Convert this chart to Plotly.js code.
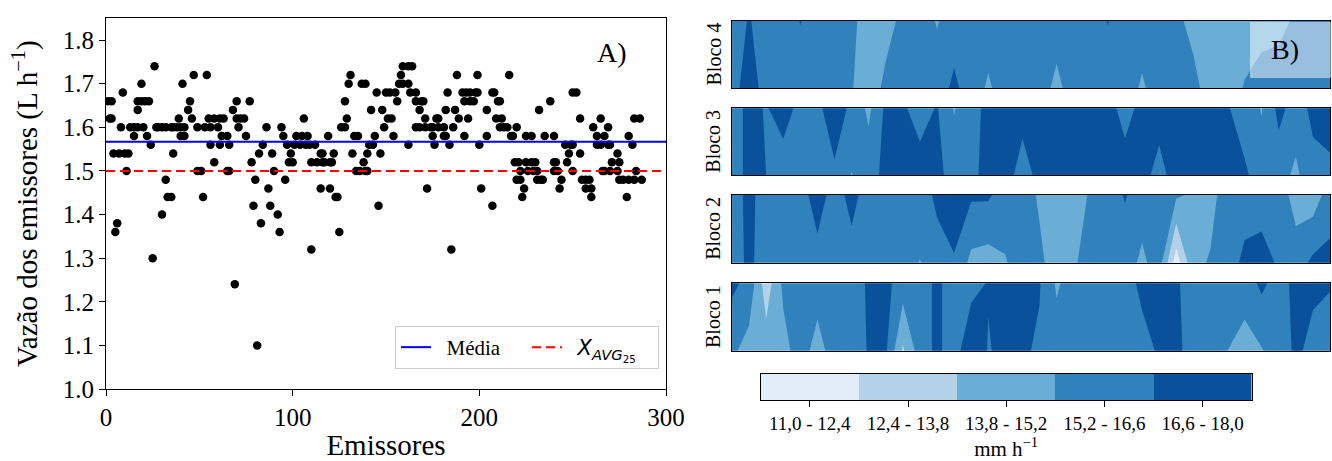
<!DOCTYPE html>
<html><head><meta charset="utf-8">
<script src="https://cdn.plot.ly/plotly-3.0.1.min.js"></script>
<style>html,body{margin:0;padding:0;background:#fff}#chart{width:1332px;height:461px}</style>
</head><body><div id="chart"></div>
<script>
// ---------- Painel A: vazão dos emissores ----------
const emissores = [
 1,3,2,3,9,8,4,7,10,12,11,6,5,
 19,17,19,21,23,17,13,15,17,20,15,22,24,26,25,
 27,28,30,32,32,33,35,30,36,35,36,38,40,42,39,41,40,42,44,45,46,47,
 49,53,49,51,52,54,55,58,61,63,56,60,56,61,66,58,62,65,65,66,
 68,69,70,70,72,74,71,77,75,78,79,80,82,83,84,86,87,88,89,90,92,93,94,95,96,97,99,98,100,81,
 102,105,108,106,101,104,107,109,112,110,110,113,116,117,120,121,115,116,122,115,120,123,124,119,125,
 126,128,129,128,130,131,133,135,132,134,136,139,140,137,139,138,140,141,143,142,144,145,146,147,148,149,
 150,152,155,151,153,154,156,158,159,162,164,157,159,162,162,163,166,166,169,170,
 166,168,171,174,175,178,181,168,171,177,178,172,175,181,182,176,184,182,185,183,186,187,189,188,
 191,193,195,198,199,192,195,197,194,192,199,200,201,
 204,204,207,208,207,210,211,209,212,211,213,215,217,216,218,220,219,221,220,222,222,224,223,
 225,228,225,228,230,226,229,231,231,233,234,232,235,238,240,240,241,240,242,244,243,
 246,249,250,248,247,250,250,252,254,254,255,257,259,257,260,260,261,263,263,265,269,265,266,267,270,274,
 267,269,270,271,274,275,275,277,280,283,279,280,282,283,286,284,287
];
const vazao = [
 1.66,1.66,1.62,1.62,1.68,1.60,1.54,1.54,1.54,1.54,1.50,1.38,1.36,
 1.70,1.66,1.66,1.66,1.66,1.64,1.60,1.60,1.60,1.60,1.58,1.58,1.56,1.74,1.30,
 1.60,1.60,1.60,1.60,1.48,1.44,1.44,1.40,1.54,1.60,1.60,1.60,1.60,1.60,1.62,1.70,1.58,1.58,1.64,1.66,1.62,1.72,
 1.60,1.60,1.50,1.50,1.44,1.72,1.62,1.62,1.62,1.62,1.60,1.60,1.56,1.56,1.56,1.52,1.58,1.58,1.50,1.50,
 1.64,1.24,1.66,1.62,1.62,1.62,1.60,1.66,1.58,1.52,1.42,1.48,1.54,1.38,1.56,1.60,1.46,1.42,1.54,1.50,1.40,1.36,1.60,1.58,1.48,1.56,1.54,1.52,1.52,1.10,
 1.58,1.58,1.58,1.62,1.56,1.56,1.56,1.56,1.56,1.32,1.52,1.52,1.52,1.52,1.52,1.52,1.54,1.54,1.54,1.46,1.46,1.44,1.44,1.58,1.36,
 1.60,1.60,1.62,1.66,1.70,1.72,1.58,1.58,1.54,1.50,1.50,1.50,1.50,1.70,1.70,1.52,1.54,1.56,1.56,1.64,1.58,1.68,1.42,1.54,1.64,1.60,
 1.68,1.68,1.68,1.62,1.62,1.58,1.66,1.72,1.74,1.74,1.74,1.70,1.70,1.70,1.56,1.68,1.68,1.66,1.66,1.66,
 1.60,1.60,1.60,1.60,1.60,1.60,1.60,1.64,1.62,1.62,1.62,1.46,1.58,1.58,1.58,1.56,1.56,1.64,1.32,1.68,1.60,1.64,1.62,1.72,
 1.68,1.68,1.68,1.68,1.68,1.66,1.66,1.66,1.62,1.58,1.72,1.56,1.46,
 1.58,1.64,1.68,1.68,1.42,1.66,1.66,1.62,1.62,1.60,1.60,1.60,1.58,1.72,1.58,1.60,1.52,1.52,1.48,1.48,1.50,1.46,1.44,
 1.58,1.58,1.52,1.52,1.52,1.50,1.50,1.50,1.48,1.48,1.48,1.64,1.58,1.66,1.58,1.52,1.52,1.50,1.50,1.48,1.46,
 1.56,1.56,1.56,1.54,1.52,1.50,1.68,1.68,1.62,1.54,1.48,1.48,1.48,1.46,1.46,1.44,1.60,1.58,1.56,1.56,1.56,1.62,1.50,1.50,1.50,1.50,
 1.58,1.60,1.56,1.52,1.54,1.52,1.48,1.48,1.48,1.48,1.44,1.58,1.56,1.62,1.62,1.50,1.48
];
const media = 1.567;
const xavg25 = 1.50;
const faixaEmissores = [0, 300];
const xTicks = [0, 100, 200, 300];
const yTicks = [1.0, 1.1, 1.2, 1.3, 1.4, 1.5, 1.6, 1.7, 1.8];

// ---------- Painel B: lâmina aplicada por bloco (mm h-1) ----------
const colunas = [0,1,2,3,4,5,6,7,8,9,10,11,12,13,14,15,16,17,18,19,20,21,22,23,24,25,26,27,28,29,30,31,32,33,34,35];
const bloco4Topo = [15.9,16.7,15.9,15.9,16.65,15.9,15.8,15.5,14.6,14.6,15.6,15.9,15.1,15.9,15.9,15.9,15.9,15.9,15.9,15.9,15.9,15.9,16.65,15.9,15.9,15.9,15.5,14.8,14.5,14.4,14.5,14.6,14.8,15.4,15.8,15.9];
const bloco4Base = [15.9,17.5,15.9,15.9,15.9,15.9,15.8,15.3,14.3,15.6,15.9,15.9,15.9,16.9,15.9,15.0,15.9,15.9,15.9,14.8,15.9,15.9,15.9,15.9,15.0,15.9,15.9,15.6,14.6,14.5,15.3,15.9,15.9,15.9,15.9,15.9];
const bloco3Topo = [15.9,17.0,16.5,17.2,16.2,16.2,17.6,16.2,14.9,16.9,16.8,16.0,16.7,15.1,16.2,16.9,17.0,17.1,17.0,17.1,17.2,17.0,17.1,16.1,17.0,17.1,17.2,17.1,17.0,16.7,16.0,15.1,17.0,16.0,16.9,16.8];
const bloco3Base = [15.9,17.0,16.6,15.9,15.9,16.0,16.3,15.15,16.0,17.0,17.1,17.2,17.0,16.0,16.3,17.0,17.2,16.0,17.0,17.1,17.2,17.0,17.1,17.2,17.0,16.2,17.1,17.0,17.1,16.9,16.8,16.0,15.8,14.9,16.2,16.5];
const bloco2Topo = [15.9,17.0,15.9,15.9,15.9,17.4,15.9,17.1,15.9,15.9,15.9,15.9,16.9,17.2,16.8,16.8,15.9,15.9,15.0,14.6,14.8,15.3,15.9,16.7,15.9,15.9,15.4,15.0,14.8,15.8,16.0,15.9,16.0,14.6,14.4,15.9];
const bloco2Base = [15.9,16.9,15.9,15.9,15.9,16.0,15.9,16.0,15.9,15.9,15.9,15.15,16.0,16.5,14.8,14.6,15.1,15.9,15.5,14.5,15.0,15.9,15.9,15.9,14.9,15.9,11.6,14.9,15.3,16.0,16.9,17.2,16.4,15.9,16.9,17.0];
const bloco1Topo = [16.9,16.2,13.0,15.5,15.9,15.9,15.9,15.9,16.8,17.0,15.9,15.9,16.9,15.9,16.1,16.7,17.0,16.9,16.7,15.0,15.9,15.9,15.9,15.9,17.0,17.0,16.8,15.9,15.9,15.9,15.9,16.9,16.0,17.0,16.8,16.7];
const bloco1Base = [15.5,14.6,14.5,14.7,15.9,14.6,15.9,15.9,16.7,16.8,13.6,15.9,16.9,15.9,17.8,16.5,17.0,16.8,16.4,15.9,15.9,15.9,15.9,15.9,16.0,16.8,17.0,15.9,15.9,15.2,14.6,15.1,16.0,16.8,16.3,15.9];
const limites = [12.4, 13.8, 15.2, 16.6];
const faixas = ['11,0 - 12,4', '12,4 - 13,8', '13,8 - 15,2', '15,2 - 16,6', '16,6 - 18,0'];
const faixaIdx = [0, 1, 2, 3, 4];
const cores = ['#e2edf8', '#b3d2e9', '#6aaed6', '#3181bd', '#0a519c'];
const blocos = ['Bloco 4', 'Bloco 3', 'Bloco 2', 'Bloco 1'];

// ---------- construção ----------
const serif = '"Liberation Serif", "Times New Roman", serif';
const W = 1332, H = 461;
const px = v => v / W, py = v => 1 - v / H;
const escala = cores.map((c, i) => [i / (cores.length - 1), c]);
const nb = '\u00a0\u00a0';

const traces = [];
traces.push({type:'scatter', mode:'markers', x:emissores, y:vazao, xaxis:'x', yaxis:'y',
  marker:{color:'#000', size:8.5, line:{width:0}}, showlegend:false, hoverinfo:'skip'});
traces.push({type:'scatter', mode:'lines', x:faixaEmissores, y:faixaEmissores.map(() => media),
  xaxis:'x', yaxis:'y', line:{color:'#0000ff', width:2}, name:nb + 'Média'});
traces.push({type:'scatter', mode:'lines', x:faixaEmissores, y:faixaEmissores.map(() => xavg25),
  xaxis:'x', yaxis:'y', line:{color:'#ff0000', width:2, dash:'9px,5px'},
  name:nb + '<span style="font-family:DejaVu Sans"><i>X</i><sub><i>AVG</i><sub>25</sub></sub></span>'});

const dadosBlocos = [[bloco4Base, bloco4Topo], [bloco3Base, bloco3Topo], [bloco2Base, bloco2Topo], [bloco1Base, bloco1Topo]];
dadosBlocos.forEach((d, i) => {
  traces.push({type:'contour', x:colunas, y:[0, 1], z:d, xaxis:'x' + (i + 2), yaxis:'y' + (i + 2),
    autocontour:false,
    contours:{start:limites[0], end:limites[limites.length - 1], size:limites[1] - limites[0], coloring:'fill', showlines:false},
    line:{width:0, smoothing:0}, colorscale:escala, showscale:false, hoverinfo:'skip'});
});
traces.push({type:'heatmap', x:faixas, y:[0], z:[faixaIdx], xaxis:'x6', yaxis:'y6',
  colorscale:escala, zmin:0, zmax:4, showscale:false, hoverinfo:'skip'});

const frame = {showline:true, mirror:true, linecolor:'#000', linewidth:1, showgrid:false, zeroline:false};
const layout = {
  width:W, height:H, margin:{l:0, r:0, t:0, b:0}, paper_bgcolor:'#fff', plot_bgcolor:'#fff',
  font:{family:serif, color:'#000'},
  legend:{orientation:'h', x:px(395), xanchor:'left', y:py(326), yanchor:'top',
    bgcolor:'rgba(255,255,255,0.85)', bordercolor:'#cccccc', borderwidth:1,
    font:{family:serif, size:21, color:'#000'}, entrywidth:86, entrywidthmode:'pixels'},
  xaxis:Object.assign({}, frame, {domain:[px(106), px(666)], range:faixaEmissores, tickvals:xTicks,
    ticks:'outside', ticklen:6, tickcolor:'#000', tickfont:{size:25},
    title:{text:'Emissores', font:{size:29}, standoff:8}, anchor:'y'}),
  yaxis:Object.assign({}, frame, {domain:[py(389), py(18.3)], range:[1.0, 1.85], tickvals:yTicks, tickformat:'.1f',
    ticks:'outside', ticklen:6, tickcolor:'#000', tickfont:{size:25},
    title:{text:'Vazão dos emissores (L h<sup>−1</sup>)', font:{size:29}, standoff:16}, anchor:'x'}),
  annotations:[
    {text:'A)', xref:'paper', yref:'paper', x:px(612), y:py(52), xanchor:'center', yanchor:'middle', showarrow:false, font:{size:28}},
    {text:'B)', xref:'paper', yref:'paper', x:px(1285), y:py(50), xanchor:'center', yanchor:'middle', showarrow:false, font:{size:28}}
  ],
  shapes:[
    {type:'rect', xref:'paper', yref:'paper', x0:px(1250), x1:1, y0:py(78), y1:py(22),
     fillcolor:'rgba(255,255,255,0.5)', line:{width:0}, layer:'above'}
  ]
};
const blocoY = [[20.7, 88.3], [108.3, 175], [195, 262.7], [283.3, 350.7]];
blocoY.forEach((b, i) => {
  const n = i + 2;
  layout['xaxis' + n] = Object.assign({}, frame, {domain:[px(732), px(1330)], range:[colunas[0], colunas[colunas.length - 1]],
    showticklabels:false, ticks:'', anchor:'y' + n});
  layout['yaxis' + n] = Object.assign({}, frame, {domain:[py(b[1]), py(b[0])], range:[0, 1],
    showticklabels:false, ticks:'', anchor:'x' + n});
  layout.annotations.push({text:blocos[i], xref:'paper', yref:'paper', x:px(713), y:py((b[0] + b[1]) / 2),
    xanchor:'center', yanchor:'middle', textangle:-90, showarrow:false, font:{size:20}});
});
layout.xaxis6 = Object.assign({}, frame, {domain:[px(760.7), px(1251.7)], type:'category',
  ticks:'outside', ticklen:6, tickcolor:'#000', tickfont:{size:19},
  title:{text:'mm h<sup>−1</sup>', font:{size:21}, standoff:2}, anchor:'y6'});
layout.yaxis6 = Object.assign({}, frame, {domain:[py(400), py(374)], range:[-0.5, 0.5],
  showticklabels:false, ticks:'', anchor:'x6'});

Plotly.newPlot('chart', traces, layout, {staticPlot:true, displayModeBar:false});
</script>
</body></html>
